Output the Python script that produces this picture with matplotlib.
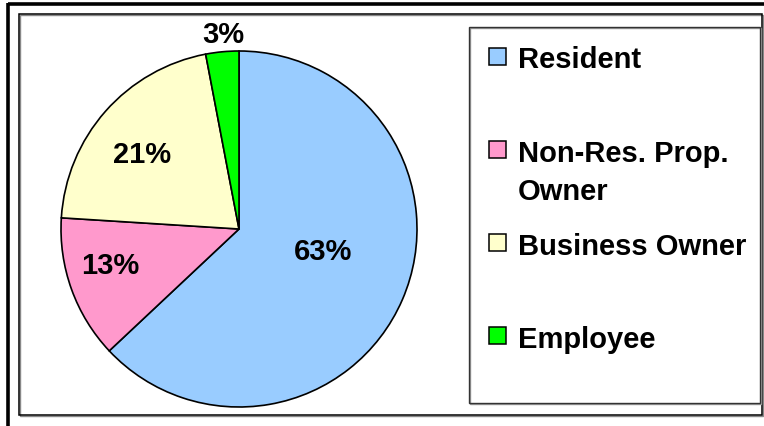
import numpy as np
import matplotlib
matplotlib.use("Agg")
import matplotlib.pyplot as plt
from matplotlib.patches import Rectangle

categories = ["Resident", "Non-Res. Prop.\nOwner", "Business Owner", "Employee"]
values = [63, 13, 21, 3]
colors = ["#99CCFF", "#FF99CC", "#FFFFCC", "#00FF00"]

plt.rcParams['font.family'] = ['Liberation Sans', 'DejaVu Sans']

W, H = 764, 427
fig = plt.figure(figsize=(W / 100, H / 100), dpi=100)

# background frame axes in pixel coordinates
bg = fig.add_axes([0, 0, 1, 1])
bg.set_xlim(0, W)
bg.set_ylim(H, 0)
bg.axis("off")
# outer (cut) frame
bg.plot([8, W], [5, 5], color="black", lw=2.6, solid_capstyle="butt")
bg.plot([8, 8], [4, H], color="black", lw=2.6, solid_capstyle="butt")
# inner chart frame (with faint shadow)
bg.add_patch(Rectangle((20, 16), 743, 401, fill=False, ec="#888888", lw=1.0))
bg.add_patch(Rectangle((19, 15), 743, 401, fill=False, ec="black", lw=1.1))
# legend box
bg.add_patch(Rectangle((470, 29), 291, 376, fill=False, ec="#999999", lw=1.0))
bg.add_patch(Rectangle((469, 28), 291, 376, fill=False, ec="#333333", lw=1.0))

fs = 21
step = 93.3
for i, (lab, col) in enumerate(zip(categories, colors)):
    yc = 57 + i * step
    bg.add_patch(Rectangle((489, yc - 8.5), 17, 17, fc=col, ec="black", lw=1.1))
    bg.text(518, yc - 10.5, lab, fontsize=fs, fontweight="bold", va="top", ha="left",
            linespacing=1.48)

# pie
cx, cy, r = 239, 230, 178
ax = fig.add_axes([(cx - r) / W, (H - cy - r) / H, 2 * r / W, 2 * r / H])
wedges, _ = ax.pie(values, colors=colors, startangle=90, counterclock=False,
                   radius=1, wedgeprops=dict(edgecolor="black", linewidth=1.2))
ax.set_xlim(-1, 1)
ax.set_ylim(-1, 1)
ax.axis("off")

label_r = [0.49, 0.75, 0.69, 1.1]
label_da = [8.7, -4, 3.7, -0.7]
for w, v, lr, da in zip(wedges, values, label_r, label_da):
    th = np.deg2rad((w.theta1 + w.theta2) / 2 + da)
    ax.text(lr * np.cos(th), lr * np.sin(th), f"{v}%", ha="center", va="center",
            fontsize=fs, fontweight="bold", clip_on=False)

fig.savefig("out.png", dpi=100)
